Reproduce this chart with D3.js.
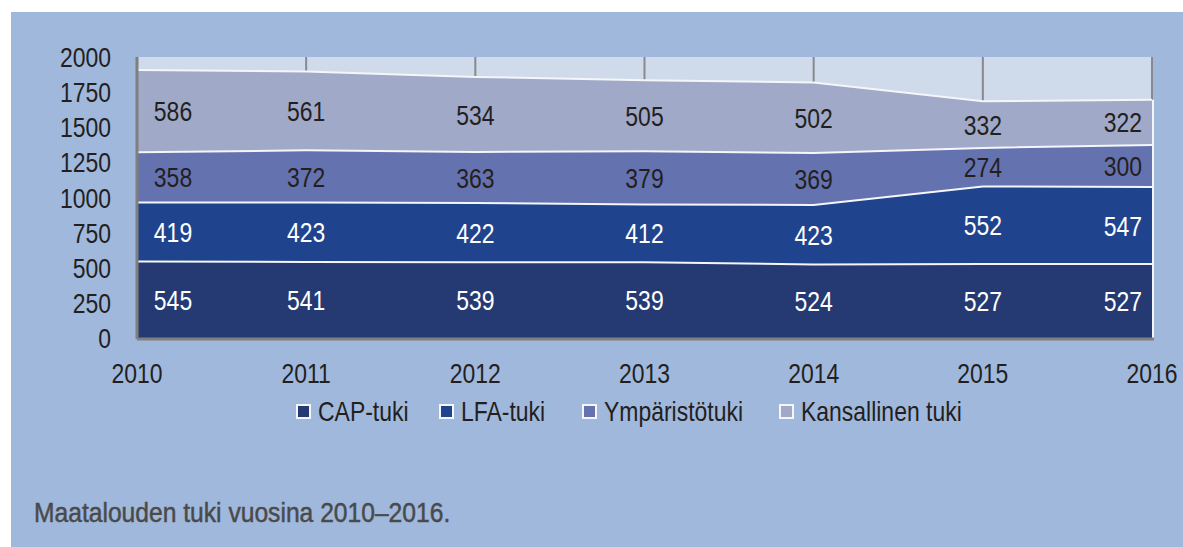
<!DOCTYPE html>
<html>
<head>
<meta charset="utf-8">
<script src="https://cdn.jsdelivr.net/npm/d3@7"></script>
<style>
  body { margin: 0; background: #fff; }
  svg { display: block; }
  text { font-family: "Liberation Sans", Arial, sans-serif; }
</style>
</head>
<body>
<svg width="1183" height="547"></svg>
<script>
const years = [2010, 2011, 2012, 2013, 2014, 2015, 2016]
const capTuki = [545, 541, 539, 539, 524, 527, 527]
const lfaTuki = [419, 423, 422, 412, 423, 552, 547]
const ymparistoTuki = [358, 372, 363, 379, 369, 274, 300]
const kansallinenTuki = [586, 561, 534, 505, 502, 332, 322]
const seriesNames = ['CAP-tuki', 'LFA-tuki', 'Ympäristötuki', 'Kansallinen tuki']
const yTicks = [0, 250, 500, 750, 1000, 1250, 1500, 1750, 2000]
const caption = 'Maatalouden tuki vuosina 2010–2016.'

const colors = ['#253a72', '#1f448d', '#6572b0', '#a0a9c8']
const labelColors = ['#ffffff', '#ffffff', '#231f20', '#231f20']

// narrow look: squeeze text horizontally
const narrow = 0.82
const place = (x, y, s = narrow) => 'translate(' + x + ',' + y + ') scale(' + s + ',1)'

const svg = d3.select('svg')
const margin = { top: 57, right: 31, bottom: 209, left: 137 }
const width = 1183 - margin.left - margin.right
const height = 547 - margin.top - margin.bottom

// blue panel
svg.append('rect')
  .attr('x', 11).attr('y', 12)
  .attr('width', 1183 - 11).attr('height', 547 - 12)
  .attr('fill', '#a0b8dc')

const table = years.map((y, i) => ({
  year: y,
  'CAP-tuki': capTuki[i],
  'LFA-tuki': lfaTuki[i],
  'Ympäristötuki': ymparistoTuki[i],
  'Kansallinen tuki': kansallinenTuki[i]
}))

const stack = d3.stack().keys(seriesNames)(table)

const x = d3.scaleLinear().domain(d3.extent(years)).range([0, width])
const y = d3.scaleLinear().domain([0, 2000]).range([height, 0])

const g = svg.append('g')
  .attr('transform', 'translate(' + margin.left + ',' + margin.top + ')')

// plot background
g.append('rect')
  .attr('width', width).attr('height', height)
  .attr('fill', '#cfdbea')

// vertical gridlines
g.append('g')
  .selectAll('line')
  .data(years)
  .join('line')
  .attr('x1', d => x(d)).attr('x2', d => x(d))
  .attr('y1', 0).attr('y2', height)
  .attr('stroke', '#868a8e')
  .attr('stroke-width', 2)

const area = d3.area()
  .x(d => x(d.data.year))
  .y0(d => y(d[0]))
  .y1(d => y(d[1]))

g.append('g')
  .selectAll('path')
  .data(stack)
  .join('path')
  .attr('d', area)
  .attr('fill', (d, i) => colors[i])

// white separator lines on top of each layer
const topLine = d3.line()
  .x(d => x(d.data.year))
  .y(d => y(d[1]))

g.append('g')
  .selectAll('path')
  .data(stack)
  .join('path')
  .attr('d', topLine)
  .attr('fill', 'none')
  .attr('stroke', '#f4f6fa')
  .attr('stroke-width', 2)

// right edge of the stacked area
const lastTop = stack[stack.length - 1][years.length - 1][1]
g.append('line')
  .attr('x1', width + 1).attr('x2', width + 1)
  .attr('y1', y(lastTop))
  .attr('y2', height)
  .attr('stroke', '#f4f6fa')
  .attr('stroke-width', 2)

// value labels
const labels = []
stack.forEach((s, si) => {
  s.forEach((d, i) => {
    labels.push({ si, i, value: d[1] - d[0], mid: (d[0] + d[1]) / 2, year: d.data.year })
  })
})

g.append('g')
  .selectAll('text')
  .data(labels)
  .join('text')
  .attr('transform', d => place(x(d.year) + (d.i === 0 ? 36 : d.i === years.length - 1 ? -10 : 0), y(d.mid)))
  .attr('dy', '0.36em')
  .attr('text-anchor', d => d.i === years.length - 1 ? 'end' : 'middle')
  .attr('font-size', 28)
  .attr('fill', d => labelColors[d.si])
  .text(d => d.value)

// axes lines
g.append('line')
  .attr('x1', 0).attr('x2', 0).attr('y1', 0).attr('y2', height + 1)
  .attr('stroke', '#7f7f7f').attr('stroke-width', 3)
g.append('line')
  .attr('x1', 0).attr('x2', width + 2).attr('y1', height + 1).attr('y2', height + 1)
  .attr('stroke', '#7f7f7f').attr('stroke-width', 3)

// y axis labels
g.append('g')
  .selectAll('text')
  .data(yTicks)
  .join('text')
  .attr('transform', d => place(-26, y(d)))
  .attr('dy', '0.36em')
  .attr('text-anchor', 'end')
  .attr('font-size', 28)
  .attr('fill', '#231f20')
  .text(d => d)

// x axis labels
g.append('g')
  .selectAll('text')
  .data(years)
  .join('text')
  .attr('transform', d => place(x(d), height + 45))
  .attr('text-anchor', 'middle')
  .attr('font-size', 28)
  .attr('fill', '#231f20')
  .text(d => d)

// legend
const legendX = [297, 440, 583, 780]
const legend = svg.append('g')
  .selectAll('g')
  .data(seriesNames)
  .join('g')
  .attr('transform', (d, i) => 'translate(' + legendX[i] + ',411)')

legend.append('rect')
  .attr('x', 0).attr('y', -6)
  .attr('width', 13).attr('height', 13)
  .attr('fill', (d, i) => colors[i])
  .attr('stroke', '#f4f6fa')
  .attr('stroke-width', 2)

legend.append('text')
  .attr('transform', place(21, 0))
  .attr('dy', '0.36em')
  .attr('font-size', 28)
  .attr('fill', '#231f20')
  .text(d => d)

// caption
svg.append('text')
  .attr('transform', place(34, 522, 0.88))
  .attr('font-size', 28)
  .attr('fill', '#4a4a4a')
  .attr('stroke', '#4a4a4a')
  .attr('stroke-width', 0.5)
  .text(caption)
</script>
</body>
</html>
